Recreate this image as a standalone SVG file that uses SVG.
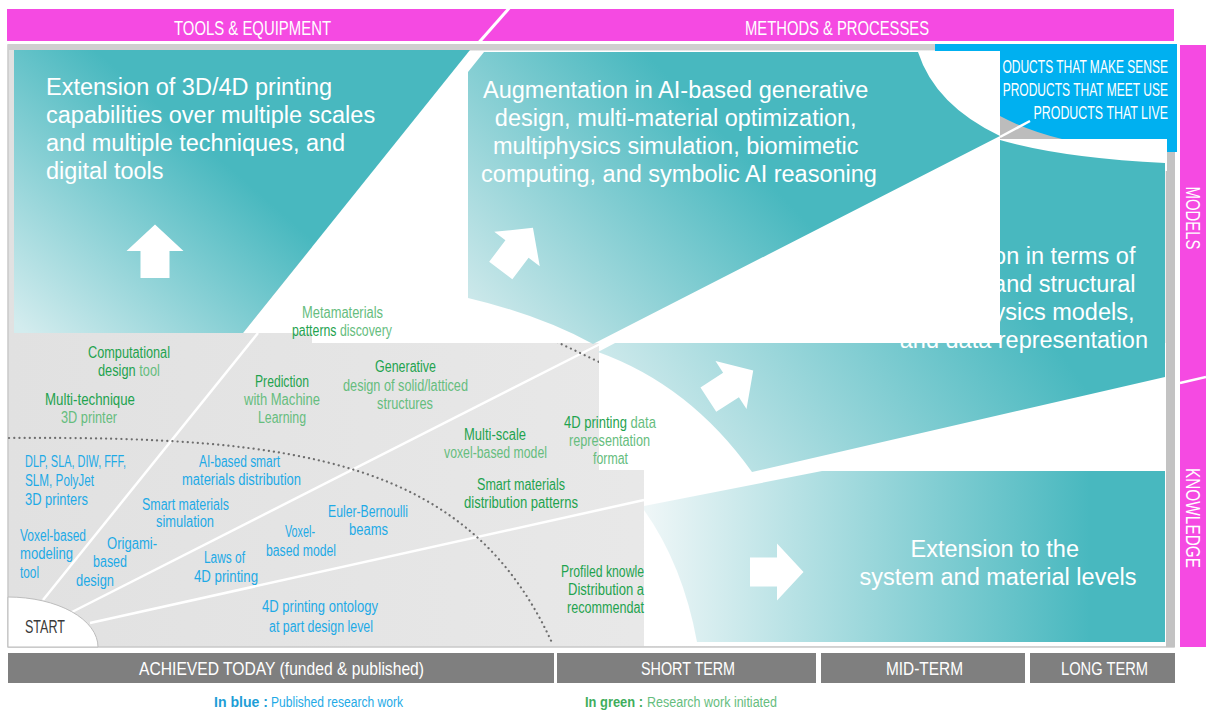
<svg xmlns="http://www.w3.org/2000/svg" width="1206" height="711" viewBox="0 0 1206 711">
<defs>
<style>
.t{font-family:"Liberation Sans",Arial,sans-serif}
.big{font-family:"Liberation Sans",Arial,sans-serif;font-size:23.5px;fill:#fff}
.lbl{font-family:"Liberation Sans",Arial,sans-serif;font-size:16px}
.g{fill:#1fa34f}.lg{fill:#66bd7e}.b{fill:#1eaae6}
.hd{font-family:"Liberation Sans",Arial,sans-serif;font-size:21px;fill:#fff}
.bar{fill:#7f7f7f}
.bt{font-family:"Liberation Sans",Arial,sans-serif;font-size:19px;fill:#fff}
.pt{font-family:"Liberation Sans",Arial,sans-serif;font-size:18px;fill:#fff}
.mag{fill:#f54ae2}
.wl{stroke:#fff;stroke-width:2.5;fill:none}
.dot{stroke:#6e6e6e;stroke-width:2.2;stroke-linecap:round;stroke-dasharray:0.1 5;fill:none}
.wh{fill:#fff}
.arrow{fill:#fff}
</style>
<linearGradient id="gFrame" x1="0" y1="0" x2="1" y2="0"><stop offset="0" stop-color="#e1e1e1"/><stop offset="1" stop-color="#eeeeee"/></linearGradient>
<linearGradient id="gLeft" gradientUnits="userSpaceOnUse" x1="40" y1="345" x2="210" y2="150"><stop offset="0" stop-color="#d3ecee"/><stop offset="1" stop-color="#48b8bf"/></linearGradient>
<linearGradient id="gAug" gradientUnits="userSpaceOnUse" x1="480" y1="320" x2="700" y2="110"><stop offset="0" stop-color="#cfe9eb"/><stop offset="1" stop-color="#48b8bf"/></linearGradient>
<linearGradient id="gMod" gradientUnits="userSpaceOnUse" x1="660" y1="470" x2="980" y2="240"><stop offset="0" stop-color="#d3ebed"/><stop offset="1" stop-color="#48b8bf"/></linearGradient>
<linearGradient id="gExt" gradientUnits="userSpaceOnUse" x1="648" y1="0" x2="1090" y2="0"><stop offset="0" stop-color="#eef6f7"/><stop offset="1" stop-color="#48b8bf"/></linearGradient>
<path id="arw" d="M-27,-14.5H0V-28.5L26.5,0L0,28.5V14.5H-27Z"/>
</defs>

<rect width="1206" height="711" fill="#fff"/>

<g id="header-tools-methods">
<rect x="7" y="9" width="1167" height="32" class="mag"/>
<line x1="511" y1="6" x2="467" y2="56" stroke="#fff" stroke-width="3"/>
<text x="174" y="35" class="hd" textLength="157" lengthAdjust="spacingAndGlyphs">TOOLS &amp; EQUIPMENT</text>
<text x="745" y="35" class="hd" textLength="184" lengthAdjust="spacingAndGlyphs">METHODS &amp; PROCESSES</text>
</g>

<g id="side-labels">
<rect x="1180" y="45" width="26" height="602" class="mag"/>
<line x1="1180" y1="383" x2="1206" y2="377" stroke="#fff" stroke-width="2.5"/>
<text transform="translate(1186,218) rotate(90)" text-anchor="middle" class="hd" textLength="63" lengthAdjust="spacingAndGlyphs">MODELS</text>
<text transform="translate(1186,518) rotate(90)" text-anchor="middle" class="hd" textLength="100" lengthAdjust="spacingAndGlyphs">KNOWLEDGE</text>
</g>

<g id="frame">
<rect x="8" y="45" width="1166" height="602" fill="url(#gFrame)" stroke="#c9c9c9" stroke-width="1.5"/>
<rect x="8" y="44" width="927" height="6" fill="#cfcfcf"/>
<rect x="1166" y="150" width="9" height="497" fill="#c3c3c3"/>
</g>

<g id="connectors">
<line x1="43" y1="600" x2="258" y2="333" class="wl"/>
<line x1="72" y1="612" x2="600" y2="344" class="wl"/>
<line x1="90" y1="623" x2="644" y2="500" class="wl"/>
<path class="dot" d="M9,438 C300,436 470,460 553,645"/>
<path class="dot" d="M557,342 L599,362"/>
</g>

<g id="start">
<path d="M8,597 A90,50 0 0 1 98,647 L8,647 Z" fill="#fff" stroke="#bdbdbd" stroke-width="1"/>
<text x="25" y="633" class="t" font-size="18" fill="#3a3a3a" textLength="40" lengthAdjust="spacingAndGlyphs">START</text>
</g>

<g id="products-box">
<rect x="935" y="44" width="242" height="108" fill="#00b0f0"/>
<text class="pt" text-anchor="end" transform="translate(1168,73) scale(0.668,1)">ODUCTS THAT MAKE SENSE</text>
<text class="pt" text-anchor="end" transform="translate(1168,96) scale(0.668,1)">PRODUCTS THAT MEET USE</text>
<text class="pt" text-anchor="end" transform="translate(1168,119) scale(0.69,1)">PRODUCTS THAT LIVE</text>
<path d="M1000,116 Q1028,131 1062,139 L1000,139 Z" fill="#bcbcbc"/>
</g>

<g id="white-areas">
<polygon points="470,51 243,333 312,333 312,51" class="wh"/>
<rect x="599" y="343" width="567" height="127" class="wh"/>
<rect x="644" y="470" width="522" height="176" class="wh"/>
<rect x="1000" y="139" width="167" height="32" class="wh"/>
</g>

<g id="models-panel">
<path d="M598,352 L1000,140 Q1062,158 1165,163 L1165,377 L752,472 Q690,385 598,352 Z" fill="url(#gMod)"/>
<text class="big" text-anchor="end">
<tspan x="1142" y="264">on in terms of</tspan>
<tspan x="1142" y="292">and structural</tspan>
<tspan x="1141" y="320">ysics models,</tspan>
<tspan x="1148" y="348">and data representation</tspan>
</text>
<use href="#arw" class="arrow" transform="translate(731,385) rotate(-33)"/>
</g>

<g id="white-cover">
<rect x="312" y="51" width="688" height="292" class="wh"/>
<line x1="1000" y1="137" x2="1030" y2="121" stroke="#fff" stroke-width="2.5"/>
</g>

<g id="tools-panel">
<path d="M14,50 L470,50 L243,333 L14,333 Z" fill="url(#gLeft)"/>
<text class="big">
<tspan x="46" y="95">Extension of 3D/4D printing</tspan>
<tspan x="46" y="123">capabilities over multiple scales</tspan>
<tspan x="46" y="151">and multiple techniques, and</tspan>
<tspan x="46" y="179">digital tools</tspan>
</text>
<use href="#arw" class="arrow" transform="translate(155,251) rotate(-90)"/>
</g>

<g id="methods-panel">
<path d="M468,72 L484,52 L918,52 Q935,105 1000,136 L593,344 Q540,315 468,298 Z" fill="url(#gAug)"/>
<text class="big" text-anchor="middle">
<tspan x="679" y="98">Augmentation in AI-based generative</tspan>
<tspan x="679" y="126">design, multi-material optimization,</tspan>
<tspan x="679" y="154">multiphysics simulation, biomimetic</tspan>
<tspan x="679" y="182">computing, and symbolic AI reasoning</tspan>
</text>
<use href="#arw" class="arrow" transform="translate(517,249) rotate(-53)"/>
</g>

<g id="knowledge-panel">
<path d="M644,506 L822,471 L1165,471 L1165,642 L697,642 Q683,565 644,510 Z" fill="url(#gExt)"/>
<text class="big" text-anchor="middle">
<tspan x="998" y="557">Extension to the</tspan>
<tspan x="998" y="585">system and material levels</tspan>
</text>
<use href="#arw" class="arrow" transform="translate(777,572)"/>
</g>

<g id="labels-green" class="lbl">
<text x="88" y="358" class="g" textLength="82" lengthAdjust="spacingAndGlyphs">Computational</text>
<text transform="translate(98,376) scale(0.8,1)"><tspan class="g">design</tspan><tspan class="lg"> tool</tspan></text>
<text x="45" y="405" class="g" textLength="90" lengthAdjust="spacingAndGlyphs">Multi-technique</text>
<text x="61" y="423" class="lg" textLength="56" lengthAdjust="spacingAndGlyphs">3D printer</text>
<text x="255" y="387" class="g" textLength="54" lengthAdjust="spacingAndGlyphs">Prediction</text>
<text x="244" y="405" class="lg" textLength="76" lengthAdjust="spacingAndGlyphs">with Machine</text>
<text x="258" y="423" class="lg" textLength="48" lengthAdjust="spacingAndGlyphs">Learning</text>
<text x="302" y="318" class="lg" textLength="81" lengthAdjust="spacingAndGlyphs">Metamaterials</text>
<text transform="translate(292,336) scale(0.77,1)"><tspan class="g">patterns</tspan><tspan class="lg"> discovery</tspan></text>
<text x="375" y="372" class="g" textLength="61" lengthAdjust="spacingAndGlyphs">Generative</text>
<text x="343" y="391" class="lg" textLength="125" lengthAdjust="spacingAndGlyphs">design of solid/latticed</text>
<text x="377" y="409" class="lg" textLength="56" lengthAdjust="spacingAndGlyphs">structures</text>
<text x="464" y="440" class="g" textLength="62" lengthAdjust="spacingAndGlyphs">Multi-scale</text>
<text x="444" y="458" class="lg" textLength="103" lengthAdjust="spacingAndGlyphs">voxel-based model</text>
<text transform="translate(564,428) scale(0.814,1)"><tspan class="g">4D printing</tspan><tspan class="lg"> data</tspan></text>
<text x="569" y="446" class="lg" textLength="81" lengthAdjust="spacingAndGlyphs">representation</text>
<text x="593" y="464" class="lg" textLength="35" lengthAdjust="spacingAndGlyphs">format</text>
<text x="477" y="490" class="g" textLength="88" lengthAdjust="spacingAndGlyphs">Smart materials</text>
<text x="464" y="508" class="g" textLength="114" lengthAdjust="spacingAndGlyphs">distribution patterns</text>
<text x="561" y="577" class="g" textLength="83" lengthAdjust="spacingAndGlyphs">Profiled knowle</text>
<text x="568" y="595" class="g" textLength="76" lengthAdjust="spacingAndGlyphs">Distribution a</text>
<text x="567" y="613" class="g" textLength="77" lengthAdjust="spacingAndGlyphs">recommendat</text>
</g>

<g id="labels-blue" class="lbl b">
<text x="25" y="467" textLength="101" lengthAdjust="spacingAndGlyphs">DLP, SLA, DIW, FFF,</text>
<text x="25" y="486" textLength="69" lengthAdjust="spacingAndGlyphs">SLM, PolyJet</text>
<text x="25" y="505" textLength="63" lengthAdjust="spacingAndGlyphs">3D printers</text>
<text x="199" y="467" textLength="81" lengthAdjust="spacingAndGlyphs">AI-based smart</text>
<text x="182" y="485" textLength="119" lengthAdjust="spacingAndGlyphs">materials distribution</text>
<text x="142" y="510" textLength="87" lengthAdjust="spacingAndGlyphs">Smart materials</text>
<text x="156" y="527" textLength="58" lengthAdjust="spacingAndGlyphs">simulation</text>
<text x="20" y="541" textLength="66" lengthAdjust="spacingAndGlyphs">Voxel-based</text>
<text x="20" y="559" textLength="53" lengthAdjust="spacingAndGlyphs">modeling</text>
<text x="20" y="578" textLength="19" lengthAdjust="spacingAndGlyphs">tool</text>
<text x="107" y="549" textLength="50" lengthAdjust="spacingAndGlyphs">Origami-</text>
<text x="93" y="567" textLength="34" lengthAdjust="spacingAndGlyphs">based</text>
<text x="76" y="586" textLength="38" lengthAdjust="spacingAndGlyphs">design</text>
<text x="204" y="563" textLength="41" lengthAdjust="spacingAndGlyphs">Laws of</text>
<text x="194" y="582" textLength="64" lengthAdjust="spacingAndGlyphs">4D printing</text>
<text x="285" y="537" textLength="30" lengthAdjust="spacingAndGlyphs">Voxel-</text>
<text x="266" y="556" textLength="70" lengthAdjust="spacingAndGlyphs">based model</text>
<text x="328" y="517" textLength="80" lengthAdjust="spacingAndGlyphs">Euler-Bernoulli</text>
<text x="349" y="535" textLength="39" lengthAdjust="spacingAndGlyphs">beams</text>
<text x="262" y="612" textLength="116" lengthAdjust="spacingAndGlyphs">4D printing ontology</text>
<text x="269" y="632" textLength="104" lengthAdjust="spacingAndGlyphs">at part design level</text>
</g>

<g id="timeline">
<rect x="8" y="653" width="546" height="30" class="bar"/>
<rect x="557" y="653" width="259" height="30" class="bar"/>
<rect x="821" y="653" width="204" height="30" class="bar"/>
<rect x="1030" y="653" width="145" height="30" class="bar"/>
<text x="139" y="675" class="bt" textLength="285" lengthAdjust="spacingAndGlyphs">ACHIEVED TODAY (funded &amp; published)</text>
<text x="641" y="675" class="bt" textLength="94" lengthAdjust="spacingAndGlyphs">SHORT TERM</text>
<text x="886" y="675" class="bt" textLength="77" lengthAdjust="spacingAndGlyphs">MID-TERM</text>
<text x="1061" y="675" class="bt" textLength="87" lengthAdjust="spacingAndGlyphs">LONG TERM</text>
</g>

<g id="legend" class="t" font-size="14">
<text x="214" y="707" font-weight="bold" fill="#1e9ed6" textLength="54" lengthAdjust="spacingAndGlyphs">In blue :</text>
<text x="271" y="707" fill="#1eaae6" textLength="132" lengthAdjust="spacingAndGlyphs">Published research work</text>
<text x="585" y="707" font-weight="bold" fill="#3fae5c" textLength="58" lengthAdjust="spacingAndGlyphs">In green :</text>
<text x="647" y="707" fill="#66bd7e" textLength="130" lengthAdjust="spacingAndGlyphs">Research work initiated</text>
</g>
</svg>
